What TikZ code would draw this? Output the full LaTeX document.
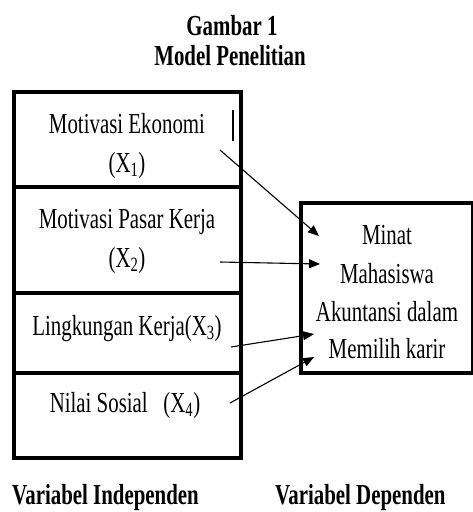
\documentclass[tikz,border=0pt]{standalone}
\usepackage{fontspec}
\setmainfont{Liberation Serif}[FakeStretch=0.72]
\usetikzlibrary{arrows.meta}
\tikzset{
  varbox/.style={draw, line width=4pt, inner sep=0pt},
  deptbox/.style={draw, line width=3.6pt, inner sep=0pt},
  lbl/.style={anchor=base, inner sep=0pt, font=\fontsize{29}{38}\selectfont},
  ttl/.style={anchor=base, inner sep=0pt, font=\fontsize{29}{38}\selectfont\bfseries},
  conn/.style={line width=1.1pt, -{Triangle[length=11pt,width=9pt]}}
}
\newcommand{\xs}[1]{X\textsubscript{#1}}
\begin{document}
\begin{tikzpicture}[x=1pt,y=-1pt]
\useasboundingbox (0,0) rectangle (473,512);
% title
\node[ttl] (t1) at (232,35) {Gambar 1};
\node[ttl] (t2) at (230,65) {Model Penelitian};
% left boxes
\draw[varbox] (14,92) rectangle (241,187);
\draw[varbox] (14,187) rectangle (241,293);
\draw[varbox] (14,293) rectangle (241,373);
\draw[varbox] (14,373) rectangle (241,458);
% right box
\draw[deptbox] (301,203) rectangle (473,373);
% small bar
\draw[line width=2pt] (233,110) -- (233,141);
% texts
\node[lbl] (x1a) at (127,133) {Motivasi Ekonomi};
\node[lbl] (x1b) at (127,172) {(\xs{1})};
\node[lbl] (x2a) at (127,228) {Motivasi Pasar Kerja};
\node[lbl] (x2b) at (127,267) {(\xs{2})};
\node[lbl] (x3) at (127,335) {Lingkungan Kerja(\xs{3})};
\node[lbl] (x4) at (125,412) {Nilai Sosial\ \ \ (\xs{4})};
\node[lbl] (y1) at (387,244) {Minat};
\node[lbl] (y2) at (387,283) {Mahasiswa};
\node[lbl] (y3) at (387,321) {Akuntansi dalam};
\node[lbl] (y4) at (387,358) {Memilih karir};
% connectors
\coordinate (s1) at (220,150); \coordinate (e1) at (319,236);
\coordinate (s2) at (220,262); \coordinate (e2) at (320,264);
\coordinate (s3) at (231,347); \coordinate (e3) at (314,334);
\coordinate (s4) at (230,403); \coordinate (e4) at (314,357);
\draw[conn] (s1) -- (e1);
\draw[conn] (s2) -- (e2);
\draw[conn] (s3) -- (e3);
\draw[conn] (s4) -- (e4);
% bottom labels
\node[ttl, anchor=base west] (vi) at (12,504) {Variabel Independen};
\node[ttl, anchor=base west] (vd) at (275,504) {Variabel Dependen};
\end{tikzpicture}
\end{document}
